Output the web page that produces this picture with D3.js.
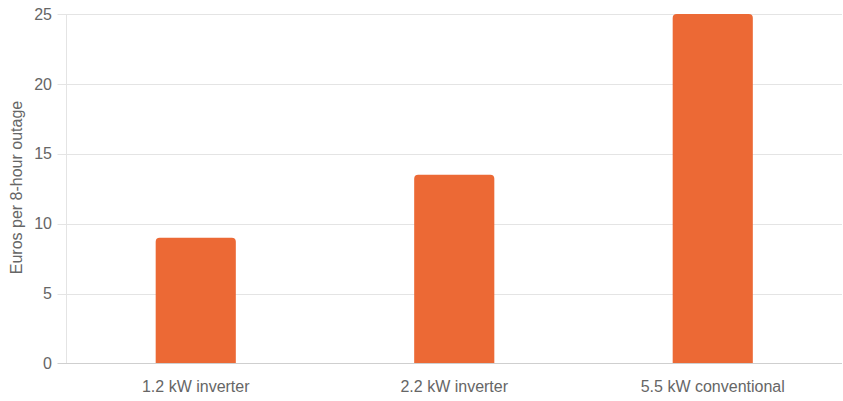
<!DOCTYPE html>
<html><head><meta charset="utf-8">
<script src="https://cdn.jsdelivr.net/npm/d3@7"></script>
<style>
html,body{margin:0;padding:0;background:#fff;}
svg{display:block;font-family:"Liberation Sans",Arial,sans-serif;}
</style></head>
<body>
<svg id="c" width="843" height="401"></svg>
<script>
const categories = ["1.2 kW inverter", "2.2 kW inverter", "5.5 kW conventional"];
const values = [9, 13.5, 25];
const yTicks = [0, 5, 10, 15, 20, 25];
const yTitle = "Euros per 8-hour outage";

const svg = d3.select("#c");
const mLeft = 66.5, mRight = 842, mTop = 14, mBottom = 363.5;

const x = d3.scaleBand().domain(categories).range([mLeft, mRight]).padding(0);
const y = d3.scaleLinear().domain([0, 25]).range([mBottom, mTop]);

// gridlines
svg.append("g").selectAll("line").data(yTicks.filter(t => t > 0)).join("line")
  .attr("x1", mLeft - 9).attr("x2", mRight)
  .attr("y1", d => Math.round(y(d)) + 0.5).attr("y2", d => Math.round(y(d)) + 0.5)
  .attr("stroke", "#e4e4e4").attr("stroke-width", 1);

// left axis line
svg.append("line").attr("x1", mLeft).attr("x2", mLeft).attr("y1", mTop).attr("y2", mBottom)
  .attr("stroke", "#e4e4e4");

// bars
const bw = x.bandwidth() * 0.31;
const r = 4;
svg.append("g").selectAll("path").data(values).join("path")
  .attr("fill", "#EC6935")
  .attr("d", (d, i) => {
    const cx = x(categories[i]) + x.bandwidth() / 2;
    const x0 = cx - bw / 2, x1 = cx + bw / 2;
    const yt = y(d), yb = y(0);
    return `M${x0},${yb}L${x0},${yt + r}Q${x0},${yt} ${x0 + r},${yt}L${x1 - r},${yt}Q${x1},${yt} ${x1},${yt + r}L${x1},${yb}Z`;
  });

// bottom axis line
svg.append("line").attr("x1", mLeft - 9).attr("x2", mRight)
  .attr("y1", mBottom).attr("y2", mBottom).attr("stroke", "#cfcfcf");

// y tick labels
svg.append("g").selectAll("text").data(yTicks).join("text")
  .attr("x", 52).attr("y", d => y(d)).attr("dy", "0.35em")
  .attr("text-anchor", "end").attr("fill", "#666").attr("font-size", 16)
  .text(d => d);

// x labels
svg.append("g").selectAll("text").data(categories).join("text")
  .attr("x", d => x(d) + x.bandwidth() / 2).attr("y", 392)
  .attr("text-anchor", "middle").attr("fill", "#666").attr("font-size", 16)
  .text(d => d);

// y title
svg.append("text")
  .attr("transform", `translate(21.5,187.5) rotate(-90)`)
  .attr("text-anchor", "middle").attr("fill", "#666").attr("font-size", 16)
  .text(yTitle);
</script>
</body></html>
